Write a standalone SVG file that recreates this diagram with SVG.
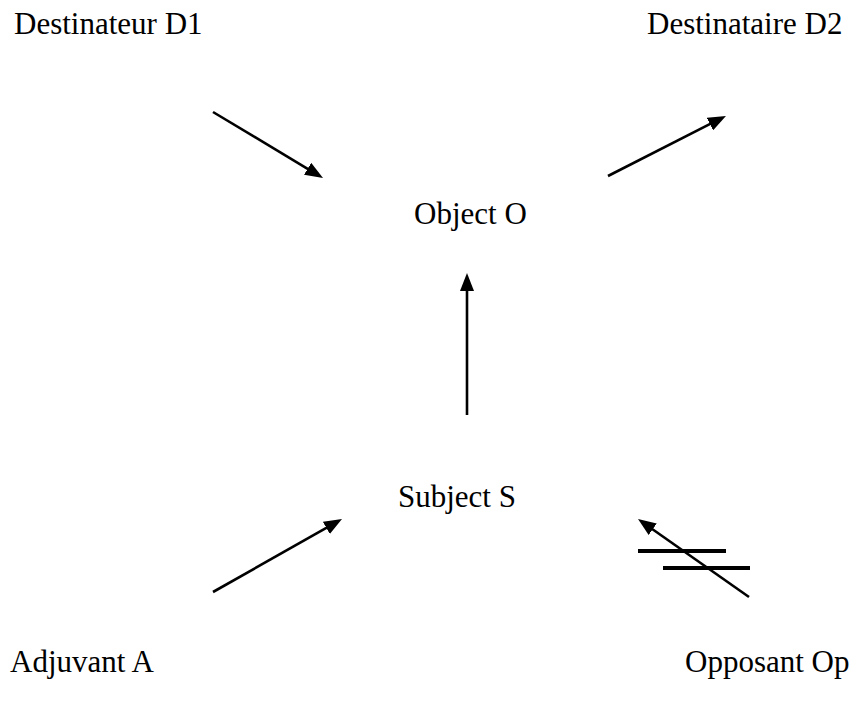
<svg xmlns="http://www.w3.org/2000/svg" width="859" height="706" viewBox="0 0 859 706">
<style>
text { font-family: "Liberation Serif", "Times New Roman", serif; font-size: 31px; fill: #000; }
.c { stroke: #000; stroke-width: 2.6; fill: none; marker-end: url(#ah); }
.bar { stroke: #000; stroke-width: 4; }
</style>
<defs>
<marker id="ah" markerUnits="userSpaceOnUse" markerWidth="18" markerHeight="14" refX="2" refY="7" orient="auto">
<path d="M0,0 L18,7 L0,14 z" fill="#000"/>
</marker>
</defs>
<rect width="859" height="706" fill="#fff"/>
<g id="d1"><text x="14" y="34">Destinateur D1</text></g>
<g id="d2"><text x="647" y="34">Destinataire D2</text></g>
<g id="o"><text x="414" y="224">Object O</text></g>
<g id="s"><text x="398" y="507">Subject S</text></g>
<g id="a"><text x="10" y="672">Adjuvant A</text></g>
<g id="op"><text x="685" y="672">Opposant Op</text></g>
<g id="connectors">
<line class="c" x1="213" y1="112" x2="309.3" y2="169.8"/>
<line class="c" x1="608" y1="176" x2="711.7" y2="123.2"/>
<line class="c" x1="467" y1="415" x2="467" y2="289"/>
<line class="c" x1="213" y1="592" x2="328.1" y2="526.9"/>
<line class="c" x1="749" y1="597" x2="651.1" y2="528.2"/>
<line class="bar" x1="638" y1="551" x2="726" y2="551"/>
<line class="bar" x1="663" y1="568" x2="750" y2="568"/>
</g>
</svg>
